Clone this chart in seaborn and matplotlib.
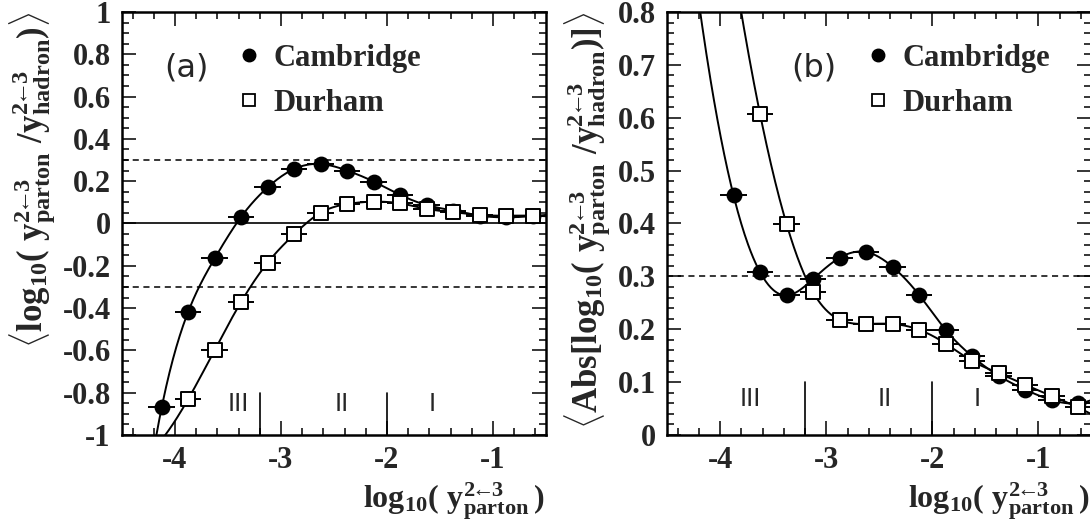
import numpy as np
import pandas as pd
import seaborn as sns
import matplotlib
matplotlib.use("Agg")
import matplotlib.pyplot as plt
from matplotlib.lines import Line2D
from matplotlib.ticker import MultipleLocator

# bin centres in log10(y_parton), bin half width 0.125
bin_centres = [-4.125, -3.875, -3.625, -3.375, -3.125, -2.875, -2.625, -2.375,
               -2.125, -1.875, -1.625, -1.375, -1.125, -0.875, -0.625]
bin_half_width = 0.125

# (a) mean log10(y_parton / y_hadron)
cambridge_mean = [-0.869, -0.417, -0.165, 0.032, 0.171, 0.258, 0.281, 0.250,
                  0.198, 0.135, 0.087, 0.061, 0.037, 0.029, 0.035]
durham_mean = [np.nan, -0.830, -0.598, -0.370, -0.185, -0.051, 0.051, 0.092,
               0.103, 0.095, 0.069, 0.053, 0.040, 0.037, 0.037]

# (b) mean |log10(y_parton / y_hadron)|
cambridge_abs = [np.nan, 0.453, 0.308, 0.264, 0.295, 0.335, 0.346, 0.318,
                 0.265, 0.199, 0.149, 0.112, 0.086, 0.066, 0.060]
durham_abs = [np.nan, np.nan, 0.607, 0.399, 0.270, 0.218, 0.210, 0.210,
              0.199, 0.173, 0.140, 0.117, 0.095, 0.074, 0.052]

yticks_a = [-1, -0.8, -0.6, -0.4, -0.2, 0, 0.2, 0.4, 0.6, 0.8, 1]
yticks_b = [0, 0.1, 0.2, 0.3, 0.4, 0.5, 0.6, 0.7, 0.8]

region_edges = [-3.2, -2.0]
region_labels = ["III", "II", "I"]

ARROW = r"2\!\!\leftarrow\!\!3"


def spline_curve(x, y, x_lo, x_hi, n=500):
    # cubic spline through the points (not-a-knot ends), extended to x_lo..x_hi
    x = np.asarray(x, float)
    y = np.asarray(y, float)
    h = np.diff(x)
    m = len(x)
    A = np.zeros((m, m))
    b = np.zeros(m)
    for i in range(1, m - 1):
        A[i, i - 1] = h[i - 1]
        A[i, i] = 2 * (h[i - 1] + h[i])
        A[i, i + 1] = h[i]
        b[i] = 6 * ((y[i + 1] - y[i]) / h[i] - (y[i] - y[i - 1]) / h[i - 1])
    A[0, 0], A[0, 1], A[0, 2] = h[1], -(h[0] + h[1]), h[0]
    A[-1, -3], A[-1, -2], A[-1, -1] = h[-1], -(h[-2] + h[-1]), h[-2]
    M = np.linalg.solve(A, b)
    xs = np.linspace(x_lo, x_hi, n)
    k = np.clip(np.searchsorted(x, xs) - 1, 0, m - 2)
    x0, x1, hh = x[k], x[k + 1], h[k]
    ys = ((M[k] * (x1 - xs) ** 3 + M[k + 1] * (xs - x0) ** 3) / (6 * hh)
          + (y[k] / hh - M[k] * hh / 6) * (x1 - xs)
          + (y[k + 1] / hh - M[k + 1] * hh / 6) * (xs - x0))
    return xs, ys


def draw_series(ax, values, marker, face, size):
    df = pd.DataFrame({"x": bin_centres, "y": values}).dropna()
    xs, ys = spline_curve(df["x"], df["y"], -4.5, -0.5)
    sns.lineplot(x=xs, y=ys, ax=ax, color="black", lw=1.4, sort=False,
                 estimator=None, zorder=2)
    ax.errorbar(df["x"], df["y"], xerr=bin_half_width, fmt="none",
                ecolor="black", elinewidth=1.4, zorder=3)
    sns.scatterplot(data=df, x="x", y="y", ax=ax, marker=marker, s=size,
                    facecolor=face, edgecolor="black", linewidth=1.4,
                    zorder=4)


def style_axes(ax, ticks, ymin):
    ax.set_xlim(-4.5, -0.5)
    ax.set_ylim(ticks[0], ticks[-1])
    ax.xaxis.set_major_locator(MultipleLocator(1))
    ax.xaxis.set_minor_locator(MultipleLocator(0.2))
    ax.set_yticks(ticks)
    ax.set_yticklabels([f"{v:g}" for v in ticks])
    ax.yaxis.set_minor_locator(MultipleLocator(ymin))
    ax.tick_params(which="both", direction="in", top=True, right=True,
                   width=1.3, labelsize=22, pad=8)
    ax.tick_params(which="major", length=10)
    ax.tick_params(which="minor", length=5)
    for sp in ax.spines.values():
        sp.set_linewidth(1.8)
        sp.set_color("black")
    ax.grid(False)
    ax.set_xlabel(r"$\mathbf{log_{10}(\ y^{" + ARROW + r"}_{parton}\,)}$",
                  fontsize=23, ha="right", va="top")
    ax.xaxis.set_label_coords(0.995, -0.108)


def add_legend(ax, x0, y0):
    handles = [Line2D([], [], ls="none", marker="o", ms=9, mfc="black",
                      mec="black", label="Cambridge"),
               Line2D([], [], ls="none", marker="s", ms=8.5, mfc="white",
                      mec="black", mew=1.3, label="Durham")]
    ax.legend(handles=handles, loc="upper left", bbox_to_anchor=(x0, y0),
              frameon=False, handlelength=1.0, handletextpad=0.3,
              labelspacing=0.52, borderpad=0, borderaxespad=0,
              prop={"family": "Liberation Serif", "weight": "bold",
                    "size": 22})


def add_regions(ax, top, label_y, label_x):
    for e in region_edges:
        ax.axvline(e, ymin=0, ymax=top, color="black", lw=1.2)
    for lx, lab in zip(label_x, region_labels):
        ax.text(lx, label_y, lab, ha="center", va="center", fontsize=17,
                family="DejaVu Sans", fontweight="normal")


sns.set_theme(style="ticks")
plt.rcParams["font.family"] = ["Liberation Serif", "DejaVu Serif"]
plt.rcParams["font.weight"] = "bold"
plt.rcParams["mathtext.fontset"] = "custom"
plt.rcParams["mathtext.rm"] = "Liberation Serif:bold"
plt.rcParams["mathtext.bf"] = "Liberation Serif:bold"
plt.rcParams["mathtext.it"] = "Liberation Serif:bold"
plt.rcParams["axes.unicode_minus"] = False

fig = plt.figure(figsize=(10.9, 5.23), dpi=100)
ax_a = fig.add_axes([0.1119, 0.1683, 0.389, 0.8088])
ax_b = fig.add_axes([0.6122, 0.1683, 0.389, 0.8088])

# panel (a)
ax_a.axhline(0, color="black", lw=1.2, zorder=1)
for lvl in (0.3, -0.3):
    ax_a.axhline(lvl, color="black", lw=1.1, ls=(0, (4, 3)), zorder=1)
draw_series(ax_a, cambridge_mean, "o", "black", 100)
draw_series(ax_a, durham_mean, "s", "white", 95)
style_axes(ax_a, yticks_a, 0.05)
add_regions(ax_a, 0.1, -0.855, [-3.40, -2.43, -1.57])
ax_a.text(-3.896, 0.735, "(a)", fontsize=23, family="DejaVu Sans",
          fontweight="normal", ha="center", va="center")
add_legend(ax_a, 0.263, 0.925)
ax_a.set_ylabel(r"$\mathbf{\langle log_{10}(\ y^{" + ARROW + r"}_{parton}\ /y^{"
                + ARROW + r"}_{hadron})\rangle}$",
                fontsize=25, loc="top", labelpad=4)

# panel (b)
ax_b.axhline(0.3, color="black", lw=1.1, ls=(0, (4, 3)), zorder=1)
draw_series(ax_b, cambridge_abs, "o", "black", 100)
draw_series(ax_b, durham_abs, "s", "white", 95)
style_axes(ax_b, yticks_b, 0.02)
add_regions(ax_b, 0.125, 0.068, [-3.72, -2.45, -1.58])
ax_b.text(-3.116, 0.694, "(b)", fontsize=23, family="DejaVu Sans",
          fontweight="normal", ha="center", va="center")
add_legend(ax_b, 0.461, 0.925)
ax_b.set_ylabel(r"$\mathbf{\langle Abs[log_{10}(\ y^{" + ARROW + r"}_{parton}\ /y^{"
                + ARROW + r"}_{hadron})]\rangle}$",
                fontsize=25, loc="top", labelpad=4)

fig.savefig("out.png", dpi=100)
